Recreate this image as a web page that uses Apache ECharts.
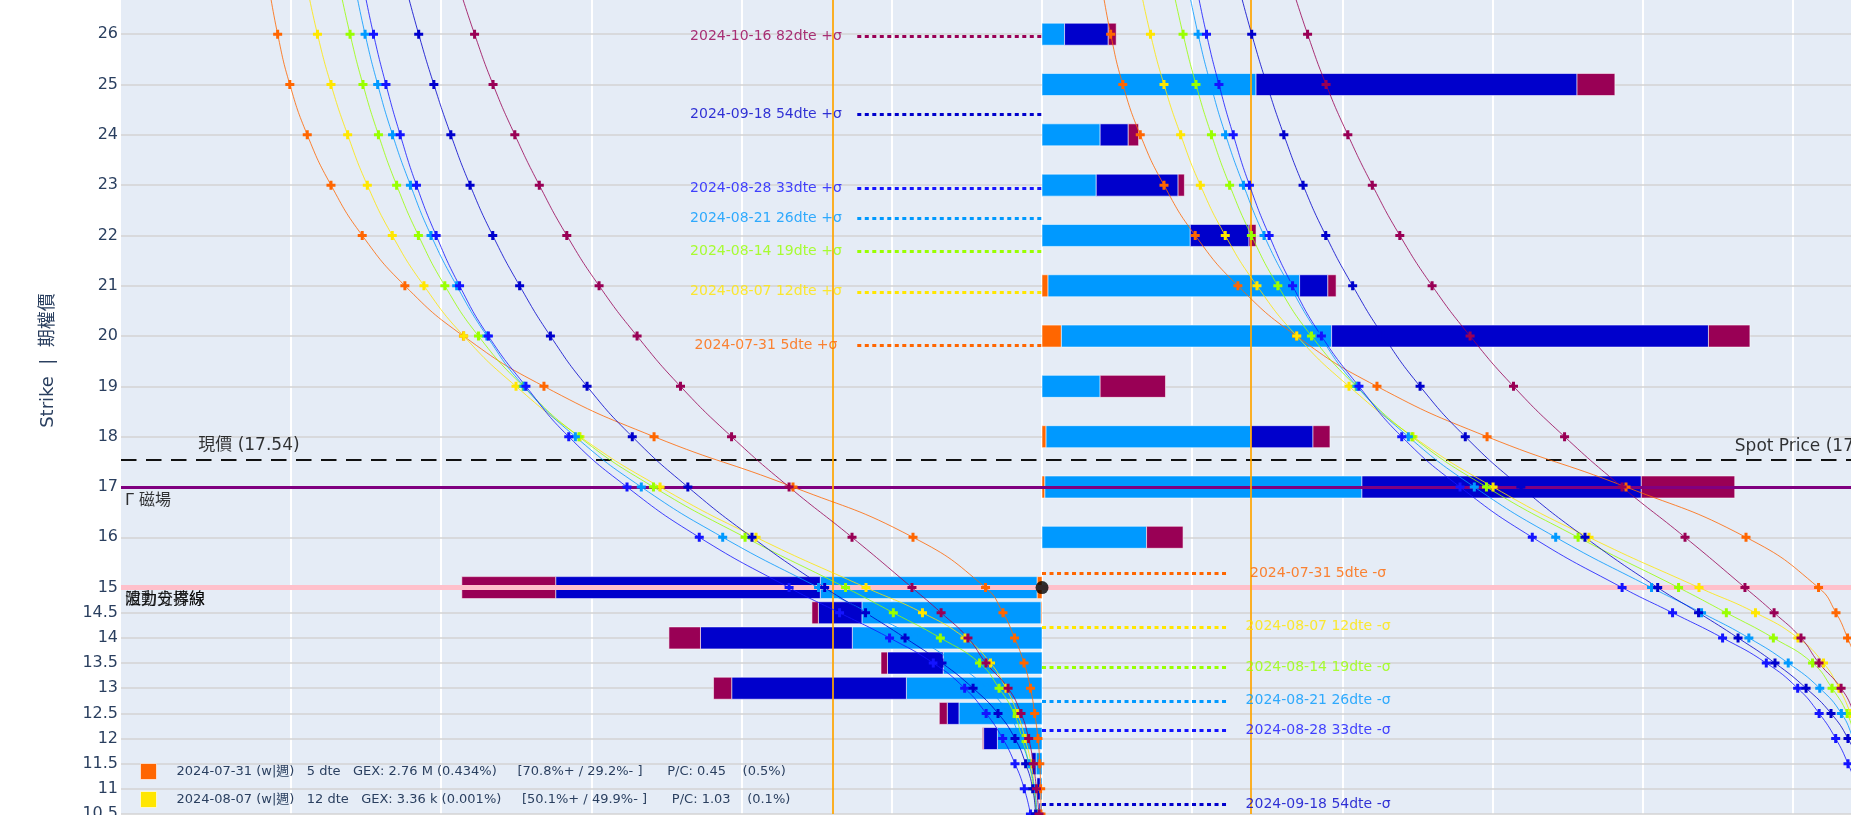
<!DOCTYPE html>
<html>
<head>
<meta charset="utf-8">
<script src="https://cdn.jsdelivr.net/npm/echarts@6/dist/echarts.min.js"></script>
<style>html,body{margin:0;padding:0;background:#fff}#chart{width:1851px;height:815px}</style>
</head>
<body>
<div id="chart"></div>
<script>
// ---------------- DATA ----------------
const tickStrikes = [26,25,24,23,22,21,20,19,18,17,16,15,14.5,14,13.5,13,12.5,12,11.5,11,10.5];
const curveStrikes = [27,26,25,24,23,22,21,20,19,18,17,16,15,14.5,14,13.5,13,12.5,12,11.5,11,10.5];
const expiries = ['2024-07-31','2024-08-07','2024-08-14','2024-08-21','2024-08-28','2024-09-18','2024-10-16'];
const dteDays = [5,12,19,26,33,54,82];

// GEX bars per expiry (aligned with tickStrikes), positive = right, negative = left
const gex0731 = [0,0,0,0,0,0.040,0.129,0,0.027,0.019,0,-0.033,-0.007,0,0,0,0,0,0,0,0];
const gex0807 = [0,0,0,0,0,0,0,0,0,0,0,0,0,0,0,0,0,0,0,0,0];
const gex0814 = [0,0,0,0,0,0,0,0,0,0,0,0,0,0,0,0,0,0,0,0,0];
const gex0821 = [0.150,1.425,0.387,0.361,0.987,1.675,1.799,0.387,1.362,2.111,0.696,-1.443,-1.192,-1.263,-0.658,-0.903,-0.553,-0.297,-0.040,-0.012,-0.010];
const gex0828 = [0,0,0,0,0,0,0,0,0,0,0,0,0,0,0,0,0,0,0,0,0];
const gex0918 = [0.291,2.137,0.187,0.545,0.391,0.188,2.509,0,0.415,1.860,0,-1.762,-0.290,-1.011,-0.371,-1.163,-0.078,-0.092,-0.029,-0.022,-0.010];
const gex1016 = [0.053,0.252,0.069,0.042,0.047,0.055,0.276,0.435,0.113,0.622,0.243,-0.625,-0.043,-0.210,-0.043,-0.121,-0.053,-0.008,0,0,0];

// option-price curves per expiry (aligned with curveStrikes)
const price0731 = [5.150,5.089,5.008,4.892,4.734,4.526,4.242,3.852,3.316,2.583,1.658,0.859,0.376,0.260,0.183,0.120,0.077,0.049,0.027,0.015,0.009,0.007];
const price0807 = [4.897,4.824,4.734,4.623,4.492,4.326,4.115,3.850,3.502,3.076,2.543,1.904,1.172,0.796,0.513,0.343,0.240,0.164,0.113,0.073,0.050,0.035];
const price0814 = [4.681,4.607,4.521,4.418,4.297,4.152,3.976,3.752,3.455,3.083,2.587,1.977,1.308,0.990,0.677,0.416,0.286,0.186,0.133,0.087,0.057,0.037];
const price0821 = [4.577,4.507,4.423,4.324,4.205,4.068,3.897,3.696,3.449,3.107,2.668,2.126,1.488,1.155,0.840,0.578,0.368,0.224,0.146,0.087,0.050,0.033];
const price0828 = [4.521,4.451,4.368,4.273,4.165,4.034,3.878,3.686,3.436,3.151,2.763,2.282,1.684,1.348,1.015,0.724,0.515,0.372,0.262,0.180,0.118,0.077];
const price0918 = [4.241,4.150,4.049,3.936,3.808,3.657,3.478,3.273,3.029,2.728,2.358,1.931,1.447,1.175,0.912,0.666,0.459,0.293,0.180,0.109,0.062,0.043];
const price1016 = [3.888,3.778,3.655,3.510,3.347,3.164,2.949,2.696,2.407,2.067,1.684,1.265,0.866,0.672,0.493,0.373,0.226,0.140,0.089,0.058,0.037,0.020];

// expected-move (sigma) strikes per expiry
const sigmaUp   = [19.81,20.88,21.68,22.34,22.93,24.40,25.96];
const sigmaDown = [15.29,14.22,13.42,12.75,12.16,10.70,9.12];

const spotPrice = 17.54;
const gammaMagnet = 17;
const volSplit = 15;
const moveLines = [-1.39, 1.39];

// legend details (visible rows)
const legendDates  = ['2024-07-31','2024-08-07'];
const legendTag    = ['w|週','w|週'];
const legendGex    = ['2.76 M','3.36 k'];
const legendGexPct = ['0.434%','0.001%'];
const legendPos    = ['70.8%','50.1%'];
const legendNeg    = ['29.2%','49.9%'];
const legendPC     = ['0.45','1.03'];
const legendPCPct  = ['0.5%','0.1%'];

// ---------------- STYLE / LAYOUT ----------------
const FONT = "'DejaVu Sans', 'Noto Sans CJK TC', sans-serif";
const COLORS = ['#ff6600','#ffe600','#99ff00','#0099ff','#1414ff','#0000cc','#990055'];
const X_MIN = -6.132, X_MAX = 5.386, COPY_SHIFT = 5.546;
const SIGMA_LEN = 1.23, SIGMA_LABEL_X = 1.838;
const PLUS = 'path://M3,0H6V3H9V6H6V9H3V6H0V3H3Z';
const xGridTicks = [-5,-4,-3,-2,-1,0,1,2,3,4,5];

const gexByExpiry = [gex0731,gex0807,gex0814,gex0821,gex0828,gex0918,gex1016];
const priceByExpiry = [price0731,price0807,price0814,price0821,price0828,price0918,price1016];

function stackSegments(k) {
  const out = [];
  tickStrikes.forEach((s, i) => {
    const v = gexByExpiry[k][i];
    if (!v) return;
    let base = 0;
    for (let j = 0; j < k; j++) {
      const w = gexByExpiry[j][i];
      if ((w > 0 && v > 0) || (w < 0 && v < 0)) base += w;
    }
    out.push([s, base, base + v]);
  });
  return out;
}

const series = [];

// grid lines
series.push({
  type: 'line', data: [], xAxisIndex: 0, yAxisIndex: 0, silent: true,
  markLine: {
    z: 1, silent: true, symbol: ['none','none'], label: {show: false}, animation: false,
    data: xGridTicks.map(v => ({xAxis: v, lineStyle: {color: '#ffffff', width: 2, type: 'solid'}}))
      .concat(tickStrikes.map(s => ({yAxis: s, lineStyle: {color: '#d3d3d3', width: 1.6, type: 'solid'}})))
  }
});

// stacked GEX bars
expiries.forEach((name, k) => {
  const color = COLORS[k];
  series.push({
    type: 'custom', name, xAxisIndex: 0, yAxisIndex: 0, z: 2, silent: true,
    itemStyle: {color},
    encode: {x: [1, 2], y: 0},
    data: stackSegments(k),
    renderItem: (params, api) => {
      const s = api.value(0), a = api.value(1), b = api.value(2);
      const p0 = api.coord([a, s]), p1 = api.coord([b, s]);
      return {
        type: 'rect',
        shape: {x: Math.min(p0[0], p1[0]), y: p0[1] - 11, width: Math.abs(p1[0] - p0[0]), height: 22},
        style: {fill: color, stroke: 'rgba(255,255,255,0.55)', lineWidth: 1}
      };
    }
  });
});

// sigma dotted lines
expiries.forEach((name, k) => {
  series.push({
    type: 'line', name, data: [], xAxisIndex: 0, yAxisIndex: 0, silent: true,
    markLine: {
      z: 3, silent: true, symbol: ['none','none'], label: {show: false}, animation: false,
      lineStyle: {color: COLORS[k], width: 3, type: [4, 3.5]},
      data: [
        [{coord: [-SIGMA_LEN, sigmaUp[k]]}, {coord: [0, sigmaUp[k]]}],
        [{coord: [0, sigmaDown[k]]}, {coord: [SIGMA_LEN, sigmaDown[k]]}]
      ]
    }
  });
});

// reference lines
series.push({
  type: 'line', data: [], xAxisIndex: 0, yAxisIndex: 0, silent: true,
  markLine: {
    z: 4, silent: true, symbol: ['none','none'], label: {show: false}, animation: false,
    data: [
      {yAxis: spotPrice, lineStyle: {color: '#111', width: 2, type: [15.5, 9.5]}},
      {yAxis: gammaMagnet, lineStyle: {color: '#800080', width: 3, type: 'solid'}},
      {yAxis: volSplit, lineStyle: {color: '#ffc0cb', width: 5, type: 'solid'}}
    ].concat(moveLines.map(v => ({xAxis: v, lineStyle: {color: 'rgba(255,165,0,0.85)', width: 2, type: 'solid'}})))
  }
});

// option price curves (two copies)
[1, 2].forEach(axisIdx => {
  expiries.forEach((name, k) => {
    series.push({
      type: 'line', name, xAxisIndex: axisIdx, yAxisIndex: 0, z: 5, silent: true,
      smooth: true, symbol: PLUS, symbolSize: 9, showSymbol: true,
      lineStyle: {width: 1, color: COLORS[k], opacity: 0.8},
      itemStyle: {color: COLORS[k]},
      data: curveStrikes.map((s, i) => [priceByExpiry[k][i], s])
    });
  });
});

// sigma labels
const sigmaLabelData = [];
expiries.forEach((name, k) => {
  [[-SIGMA_LABEL_X, sigmaUp[k], '+σ'], [SIGMA_LABEL_X, sigmaDown[k], '-σ']].forEach(([x, y, sfx]) => {
    sigmaLabelData.push({
      value: [x, y],
      label: {show: true, position: 'inside', formatter: `${name} ${dteDays[k]}dte ${sfx}`,
        color: COLORS[k], fontSize: 14, fontFamily: FONT}
    });
  });
});
series.push({
  type: 'scatter', xAxisIndex: 0, yAxisIndex: 0, z: 6, silent: true,
  symbolSize: 1, itemStyle: {color: 'transparent'}, data: sigmaLabelData
});

// text annotations
const annotations = [
  {pos: [-5.621, spotPrice], text: `現價 (${spotPrice})`, dy: -14.5, size: 17},
  {pos: [4.609, spotPrice], text: `Spot Price (${spotPrice})`, dy: -13, size: 17},
  {pos: [-6.108, gammaMagnet], text: 'Γ 磁場', dy: 13.6, size: 16},
  {pos: [-6.108, volSplit], text: '波動分界線', dy: 12.5, size: 16},
  {pos: [-6.108, volSplit], text: '阻力支撐線', dy: 12.5, size: 16}
];
series.push({
  type: 'scatter', xAxisIndex: 0, yAxisIndex: 0, z: 6, silent: true,
  symbolSize: 1, itemStyle: {color: 'transparent'},
  data: annotations.map(a => ({
    value: a.pos,
    label: {show: true, position: 'right', distance: 0, offset: [0, a.dy], formatter: a.text,
      color: '#000', fontSize: a.size, fontFamily: FONT}
  }))
});

// vol split marker
series.push({
  type: 'scatter', xAxisIndex: 0, yAxisIndex: 0, z: 7, silent: true,
  symbol: 'circle', symbolSize: 13, itemStyle: {color: '#000'},
  data: [[0, volSplit]]
});

const chart = echarts.init(document.getElementById('chart'), null, {renderer: 'canvas'});
chart.setOption({
  animation: false,
  backgroundColor: '#ffffff',
  grid: {left: 121, right: 0, top: 0, bottom: 1, show: true, backgroundColor: '#e5ecf6', borderWidth: 0,
    containLabel: false, outerBoundsMode: 'none'},
  xAxis: [
    {type: 'value', min: X_MIN, max: X_MAX, show: false, splitLine: {show: false}},
    {type: 'value', min: -X_MAX, max: -X_MIN, inverse: true, show: false, splitLine: {show: false}},
    {type: 'value', min: -X_MAX + COPY_SHIFT, max: -X_MIN + COPY_SHIFT, inverse: true, show: false, splitLine: {show: false}}
  ],
  yAxis: {
    type: 'value', min: 10.5, max: 26.68, interval: 0.5,
    axisLine: {show: false}, axisTick: {show: false}, splitLine: {show: false},
    axisLabel: {
      margin: 3, fontSize: 16, fontFamily: FONT, color: '#2a3f5f', showMaxLabel: false,
      formatter: v => tickStrikes.some(s => Math.abs(s - v) < 1e-6) ? String(v) : ''
    }
  },
  legend: {
    orient: 'vertical', left: 140, top: 763, padding: 0,
    itemWidth: 16, itemHeight: 16, itemGap: 11, icon: 'rect', selectedMode: false,
    itemStyle: {borderColor: 'rgba(255,255,255,0.6)', borderWidth: 1},
    data: legendDates,
    formatter: name => {
      const i = legendDates.indexOf(name);
      const k = expiries.indexOf(name);
      return `${name} (${legendTag[i]})   ${dteDays[k]} dte   GEX: ${legendGex[i]} (${legendGexPct[i]})     [${legendPos[i]}+ / ${legendNeg[i]}- ]      P/C: ${legendPC[i]}    (${legendPCPct[i]})`;
    },
    textStyle: {fontSize: 13, fontFamily: FONT, color: '#2a3f5f', padding: [0, 0, 0, 15]}
  },
  graphic: [{
    type: 'text', x: 48, y: 360.5, rotation: Math.PI / 2, silent: true,
    style: {text: 'Strike  |  期權價', fontSize: 18, fontFamily: FONT, fill: '#2a3f5f', align: 'center', verticalAlign: 'middle'}
  }],
  series
});
</script>
</body>
</html>
